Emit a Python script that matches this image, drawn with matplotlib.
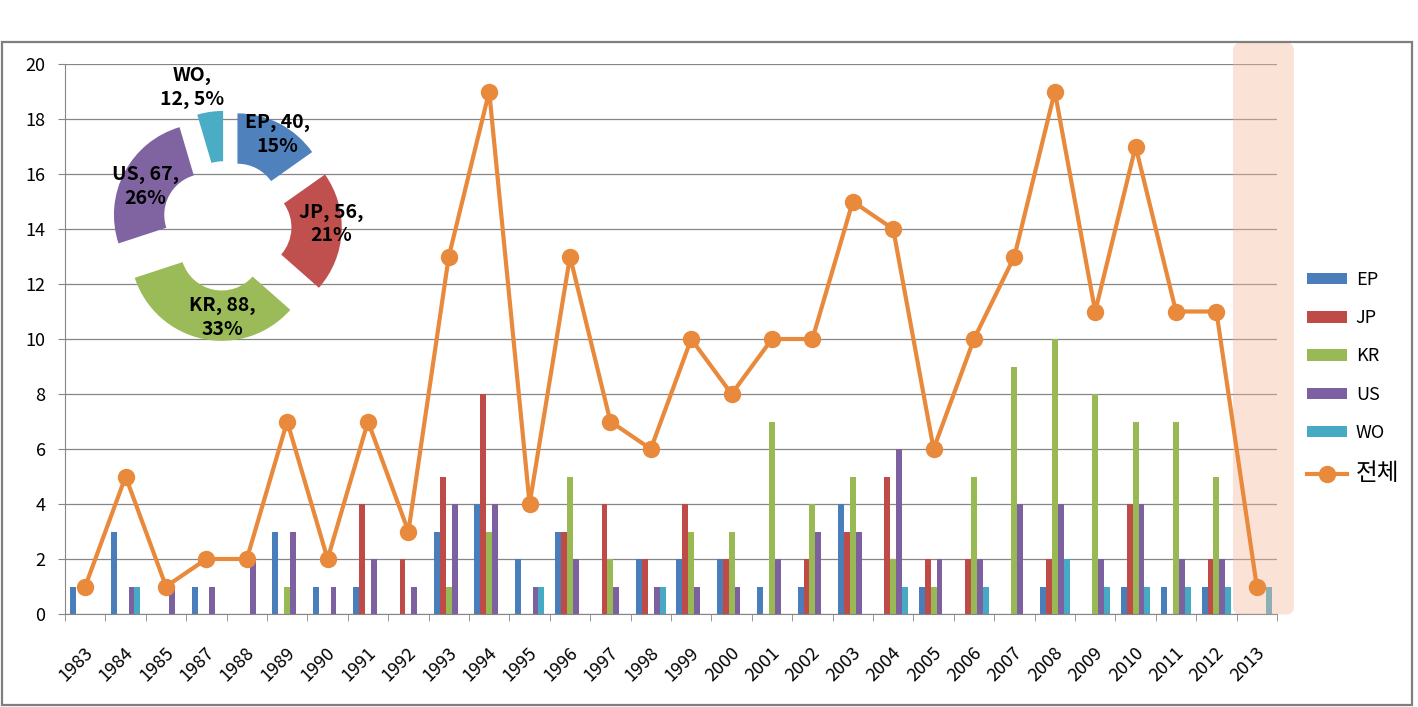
import numpy as np
import matplotlib
matplotlib.use('Agg')
from matplotlib import pyplot as plt
from matplotlib.patches import FancyBboxPatch, Rectangle
from matplotlib import transforms

plt.rcParams['font.family'] = ['Noto Sans CJK KR', 'DejaVu Sans']

# 데이터
years = ['1983', '1984', '1985', '1987', '1988', '1989', '1990', '1991', '1992', '1993',
         '1994', '1995', '1996', '1997', '1998', '1999', '2000', '2001', '2002', '2003',
         '2004', '2005', '2006', '2007', '2008', '2009', '2010', '2011', '2012', '2013']
ep = [1, 3, 0, 1, 0, 3, 1, 1, 0, 3, 4, 2, 3, 0, 2, 2, 2, 1, 1, 4, 0, 1, 0, 0, 1, 0, 1, 1, 1, 0]
jp = [0, 0, 0, 0, 0, 0, 0, 4, 2, 5, 8, 0, 3, 4, 2, 4, 2, 0, 2, 3, 5, 2, 2, 0, 2, 0, 4, 0, 2, 0]
kr = [0, 0, 0, 0, 0, 1, 0, 0, 0, 1, 3, 0, 5, 2, 0, 3, 3, 7, 4, 5, 2, 1, 5, 9, 10, 8, 7, 7, 5, 0]
us = [0, 1, 1, 1, 2, 3, 1, 2, 1, 4, 4, 1, 2, 1, 1, 1, 1, 2, 3, 3, 6, 2, 2, 4, 4, 2, 4, 2, 2, 0]
wo = [0, 1, 0, 0, 0, 0, 0, 0, 0, 0, 0, 1, 0, 0, 1, 0, 0, 0, 0, 0, 1, 0, 1, 0, 2, 1, 1, 1, 1, 1]
total = [1, 5, 1, 2, 2, 7, 2, 7, 3, 13, 19, 4, 13, 7, 6, 10, 8, 10, 10, 15, 14, 6, 10, 13, 19, 11, 17, 11, 11, 1]

series_names = ['EP', 'JP', 'KR', 'US', 'WO']
line_name = '전체'
pie_values = [40, 56, 88, 67, 12]
pie_pct = [15, 21, 33, 26, 5]

colors = ['#4A7EBB', '#BE4B48', '#98B954', '#7D60A0', '#46AAC5']
pie_colors = ['#4F81BD', '#C0504D', '#9BBB59', '#8064A2', '#4BACC6']
orange = '#E8893C'
grid_c = '#868686'

W, H = 1418, 707
fig = plt.figure(figsize=(W / 100, H / 100), dpi=100)

# 바깥 테두리
fig.add_artist(Rectangle((2 / W, 2 / H), 1410 / W, 663 / H, transform=fig.transFigure,
                         fill=False, ec='#7f7f7f', lw=1.6))

ax = fig.add_axes([65 / W, 93 / H, 1212 / W, 550 / H])
x = np.arange(len(years))
bw = 0.146
handles = []
for k, vals in enumerate([ep, jp, kr, us, wo]):
    b = ax.bar(x + (k - 2) * bw, vals, width=bw, color=colors[k], label=series_names[k], zorder=2)
    handles.append(b)

# 2013 강조 영역
hl = FancyBboxPatch((len(years) - 1 - 0.59, -0.02), 1.51, 20.8,
                    boxstyle='round,pad=0,rounding_size=0.2', mutation_aspect=40.4 / 27.5,
                    fc='#F4B89A', ec='none', alpha=0.4, zorder=3, clip_on=False,
                    transform=ax.transData)
ax.add_patch(hl)

ln, = ax.plot(x, total, color=orange, lw=3, marker='o', ms=11.5, zorder=5, label=line_name)
handles.append(ln)

ax.set_xlim(-0.5, len(years) - 0.5)
ax.set_ylim(0, 20)
ax.set_yticks(range(0, 21, 2))
ax.yaxis.grid(True, color=grid_c, lw=0.9)
ax.set_axisbelow(True)
for s in ['top', 'right']:
    ax.spines[s].set_visible(False)
for s in ['left', 'bottom']:
    ax.spines[s].set_color(grid_c)
ax.tick_params(axis='y', length=5, pad=9, color=grid_c, labelsize=13)

ax.set_xticks(x)
ax.set_xticklabels(years, rotation=45, ha='right', va='center', rotation_mode='anchor')
ax.set_xticks(np.arange(-0.5, len(years), 1), minor=True)
ax.tick_params(axis='x', which='major', length=0, pad=26, labelsize=13)
ax.tick_params(axis='x', which='minor', length=5, color=grid_c)
off = transforms.ScaledTranslation(5 / 100, 0, fig.dpi_scale_trans)
for lab in ax.get_xticklabels():
    lab.set_transform(lab.get_transform() + off)

leg = fig.legend(handles, series_names + [line_name], loc='upper left',
                 bbox_to_anchor=(1307 / W, 1 - 271 / H), frameon=False, fontsize=13,
                 handlelength=2.2, handleheight=0.6, handletextpad=0.5, labelspacing=1.12,
                 borderaxespad=0, borderpad=0)
leg.get_texts()[-1].set_fontsize(17)

# 도넛 차트
cx, cy, R, half = 226.5, 226, 91.5, 150
pax = fig.add_axes([(cx - half) / W, (H - cy - half) / H, 2 * half / W, 2 * half / H])
wedges, _ = pax.pie(pie_values, colors=pie_colors, startangle=90, counterclock=False,
                    explode=[0.26] * 5, wedgeprops=dict(width=0.55, edgecolor='none'))
pax.set_xlim(-half / R, half / R)
pax.set_ylim(-half / R, half / R)
pax.axis('off')

label_pos = [(0.56, 1.0), (1.14, 0.02), (-0.05, -1.0), (-0.89, 0.43), (-0.38, 1.51)]
for i, name in enumerate(series_names):
    if name == 'WO':
        txt = f'{name},\n{pie_values[i]}, {pie_pct[i]}%'
    else:
        txt = f'{name}, {pie_values[i]},\n{pie_pct[i]}%'
    pax.text(label_pos[i][0], label_pos[i][1], txt, ha='center', va='center',
             fontsize=14, fontweight='bold', linespacing=1.3)

fig.savefig('out.png', dpi=100)
